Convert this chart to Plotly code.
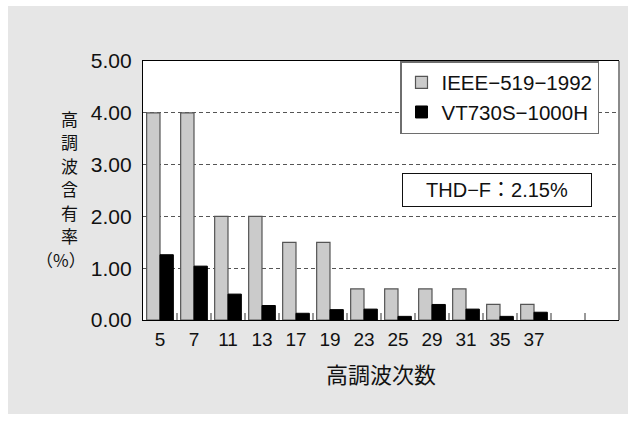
import plotly.graph_objects as go

harmonics = ["5", "7", "11", "13", "17", "19", "23", "25", "29", "31", "35", "37"]
ieee_519 = [4.0, 4.0, 2.0, 2.0, 1.5, 1.5, 0.6, 0.6, 0.6, 0.6, 0.3, 0.3]
vt730 = [1.26, 1.04, 0.50, 0.28, 0.13, 0.20, 0.21, 0.07, 0.30, 0.21, 0.07, 0.15]
n_slots = 14  # two empty slots at the right
y_ticks = [0, 1, 2, 3, 4, 5]
y_ticktext = ["0.00", "1.00", "2.00", "3.00", "4.00", "5.00"]
y_title_chars = ["高", "調", "波", "含", "有", "率", "（%）"]

LAT = "Liberation Sans, Arial, Noto Sans CJK JP, sans-serif"
CJK = "Noto Sans CJK JP, sans-serif"

xpos = list(range(len(harmonics)))

fig = go.Figure()
fig.add_trace(go.Bar(x=xpos, y=ieee_519, name="IEEE\u2212519\u22121992",
                     marker=dict(color="#cbcbcb", line=dict(color="#555555", width=1.2))))
fig.add_trace(go.Bar(x=xpos, y=vt730, name="VT730S\u22121000H",
                     marker=dict(color="#000000", line=dict(color="#000000", width=1))))

W, H = 636, 425
L, R, T, B = 143, 17, 61, 105
pw, ph = W - L - R, H - T - B

def px_x(p):
    return (p - L) / pw

def px_y(p):
    return (H - B - p) / ph

shapes = [
    dict(type="rect", xref="paper", yref="paper", layer="below",
         x0=px_x(8), x1=px_x(628), y0=px_y(414), y1=px_y(6),
         fillcolor="#e6e6e6", line=dict(width=0)),
    dict(type="rect", xref="paper", yref="paper", layer="below",
         x0=0, x1=1, y0=0, y1=1, fillcolor="#ffffff", line=dict(width=0)),
    dict(type="line", xref="paper", yref="paper", x0=1, x1=1, y0=0, y1=1,
         line=dict(color="#8a8a8a", width=2)),
]

annotations = []
y_centers = [118.3, 141.8, 165.2, 188.7, 212.1, 235.6, 259.0]
for i, ch in enumerate(y_title_chars):
    xc = 69 if i < len(y_title_chars) - 1 else 61
    annotations.append(dict(text=ch, xref="paper", yref="paper",
                            x=px_x(xc), y=px_y(y_centers[i]),
                            xanchor="center", yanchor="middle", showarrow=False,
                            font=dict(family=CJK, size=17, color="#111111")))
annotations += [
    dict(text="高調波次数", xref="paper", yref="paper",
         x=px_x(381), y=px_y(373), xanchor="center", yanchor="middle",
         showarrow=False, font=dict(family=CJK, size=22, color="#111111")),
    dict(text="THD\u2212F\uff1a2.15%", xref="paper", yref="paper",
         x=px_x(497), y=px_y(190), xanchor="center", yanchor="middle",
         showarrow=False, width=186, height=30, align="center",
         bgcolor="#ffffff", bordercolor="#111111", borderwidth=1,
         font=dict(family=LAT, size=20, color="#111111")),
]

fig.update_layout(
    width=W, height=H,
    margin=dict(l=L, r=R, t=T, b=B),
    paper_bgcolor="#ffffff", plot_bgcolor="#ffffff",
    barmode="group", bargap=0.215, bargroupgap=0,
    shapes=shapes,
    showlegend=True,
    legend=dict(x=px_x(599), xanchor="right", y=1.0, yanchor="top",
                bgcolor="#ffffff", bordercolor="#6e6e6e", borderwidth=1.5,
                font=dict(family=LAT, size=20.5, color="#111111"),
                tracegroupgap=0, itemwidth=30),
    xaxis=dict(range=[-0.5, n_slots - 0.5], tickmode="array", tickvals=xpos,
               ticktext=harmonics, ticks="", showgrid=False, zeroline=False,
               showline=True, linecolor="#000000", linewidth=1.2, mirror=True,
               tickfont=dict(family=LAT, size=19, color="#111111"),
               ticklabelstandoff=2,
               minor=dict(tickmode="array",
                          tickvals=[i + 0.5 for i in range(n_slots - 1)],
                          ticks="inside", ticklen=7, tickwidth=2,
                          tickcolor="#999999", showgrid=False)),
    yaxis=dict(range=[0, 5], tickmode="array", tickvals=y_ticks,
               ticktext=y_ticktext, ticks="", showgrid=True,
               gridcolor="#555555", gridwidth=1, griddash="4px,3px",
               zeroline=False, showline=True, linecolor="#000000", linewidth=1.2,
               tickfont=dict(family=LAT, size=21, color="#111111"),
               ticklabelstandoff=6),
    annotations=annotations,
)

fig.write_html("out.html", config={"displayModeBar": False},
               post_script="document.body.style.margin='0px';document.body.style.padding='0px';")
